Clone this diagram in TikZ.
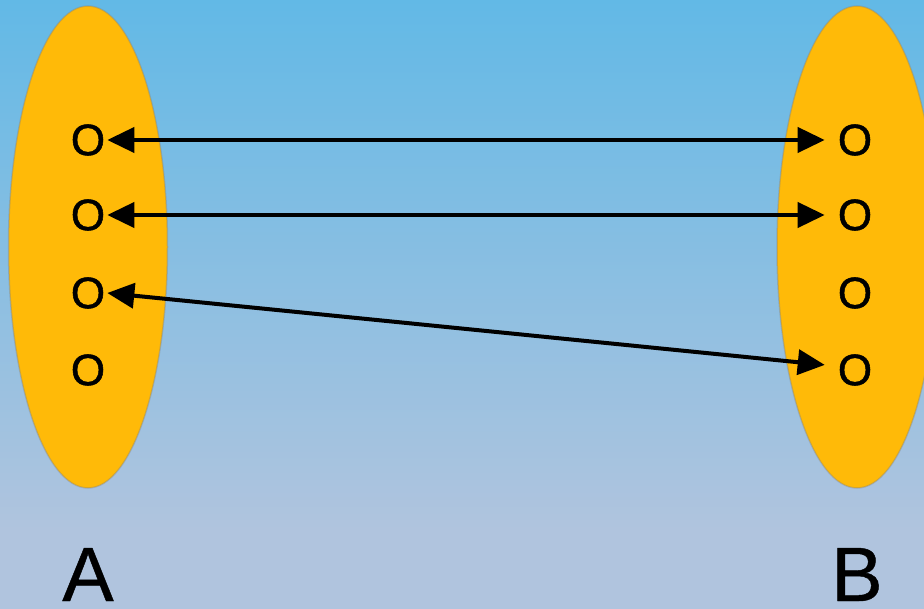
\documentclass[tikz,border=0pt]{standalone}
\usepackage{fontspec}
\setmainfont{Liberation Sans}
\newfontfamily\elemfont[FakeBold=1.2]{Liberation Sans}
\newfontfamily\labfont[FakeBold=0.6]{Liberation Sans}
\usetikzlibrary{arrows.meta}
\definecolor{bgtop}{RGB}{98,185,230}
\definecolor{bgbot}{RGB}{176,196,222}
\definecolor{setfill}{RGB}{255,186,8}
\begin{document}
\begin{tikzpicture}[x=1pt,y=-1pt,
  elem/.style={font=\elemfont\fontsize{44}{44}\selectfont, inner sep=2pt},
  setlabel/.style={font=\labfont\fontsize{77}{77}\selectfont, inner sep=0pt, anchor=base},
  setshape/.style={fill=setfill, draw=black!50, draw opacity=0.35, line width=1.5pt},
  link/.style={{Triangle[length=27pt,width=25pt]}-{Triangle[length=27pt,width=25pt]}, line width=4pt}
]
\useasboundingbox (0,0) rectangle (924,609);
\shade[top color=bgtop, bottom color=bgbot] (0,0) rectangle (924,530);
\fill[bgbot] (0,529) rectangle (924,609);
\path[setshape] (88,247) ellipse [x radius=79.5pt, y radius=241pt];
\path[setshape] (857,247) ellipse [x radius=80pt, y radius=241pt];
\foreach \i/\y in {1/140,2/215,3/293,4/370}{
  \node[elem] (a\i) at (88,\y) {O};
  \node[elem] (b\i) at (855,\y) {O};
}
\draw[link, shorten >=11pt] (a1.east) -- (b1.west);
\draw[link, shorten >=11pt] (a2.east) -- (b2.west);
\draw[link, shorten >=11pt] (a3.east) -- ([yshift=4pt]b4.west);
\node[setlabel] (la) at (88,601) {A};
\node[setlabel] (lb) at (857,601) {B};
\end{tikzpicture}
\end{document}
